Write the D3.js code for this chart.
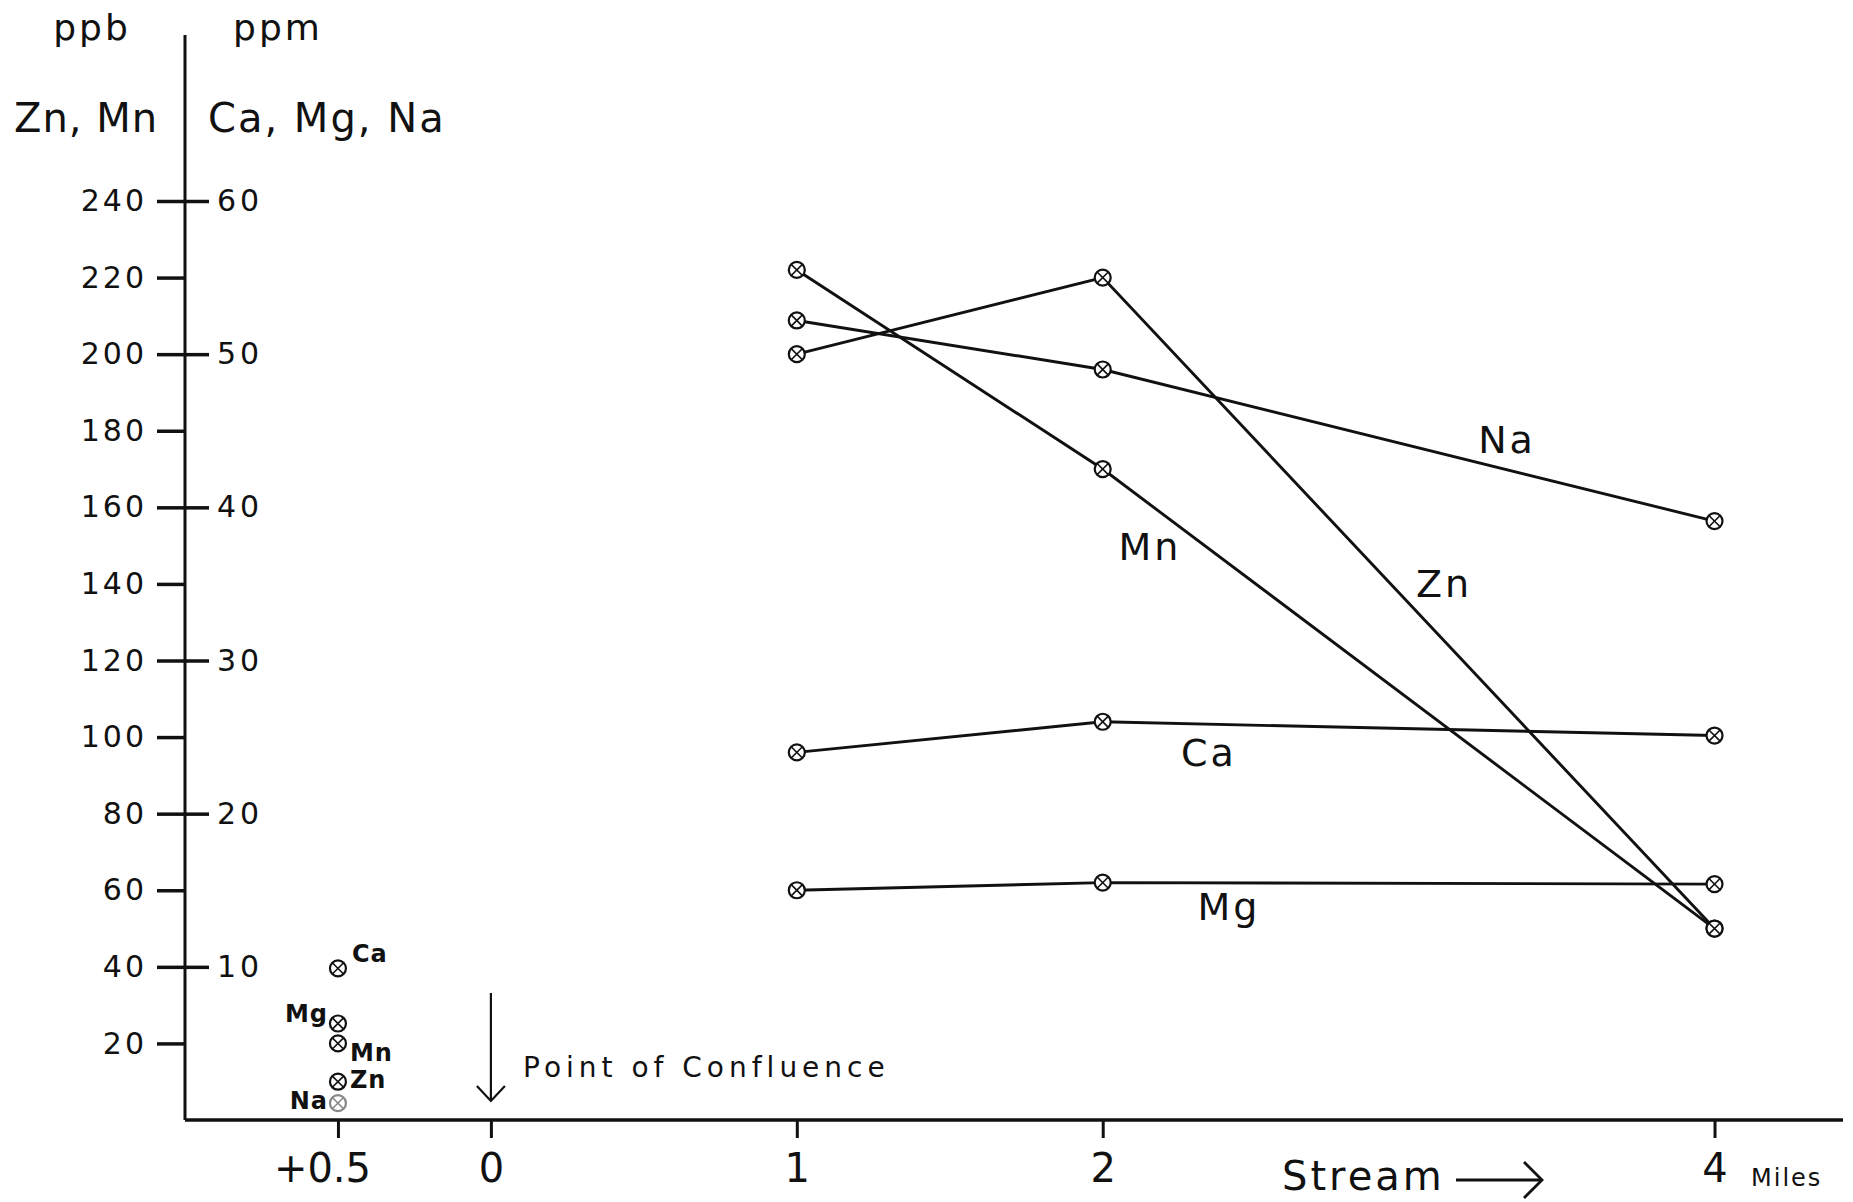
<!DOCTYPE html>
<html>
<head>
<meta charset="utf-8">
<script src="https://cdn.jsdelivr.net/npm/d3@7"></script>
<style>
    body { margin: 0; background: #fff; }
    text { font-family: "DejaVu Sans", sans-serif; fill: #111; }
</style>
</head>
<body>
<div id="graph"></div>
<script>
// stream miles downstream of the confluence; the upstream sample sits at -0.5 ("+0.5")
let upstream_mile = -0.5;
let miles = [1, 2, 4];

// ppb
let zn = [200, 220, 50];
let mn = [222, 170, 50];
// ppm
let na = [52.2, 49, 39.1];
let ca = [24, 26, 25.1];
let mg = [15, 15.5, 15.4];

// upstream sample (+0.5 mile)
let upstream_ppb = { Zn: 10, Mn: 20 };
let upstream_ppm = { Ca: 9.9, Mg: 6.3, Na: 1.1 };

let ppb_ticks = [20, 40, 60, 80, 100, 120, 140, 160, 180, 200, 220, 240];
let ppm_ticks = [10, 20, 30, 40, 50, 60];
let x_ticks = [-0.5, 0, 1, 2, 4];
let x_tick_labels = ["+0.5", "0", "1", "2", "4"];

let width = 1853, height = 1202;
let margin = { top: 35, right: 10, bottom: 83, left: 185 };

let svg = d3.select("#graph")
    .append("svg")
    .attr("width", width)
    .attr("height", height);

let x = d3.scaleLinear()
    .domain([-1, 4.42])
    .range([margin.left, width - margin.right]);

let y = d3.scaleLinear()      // ppb
    .domain([0, 240])
    .range([1120, 201]);
let y2 = d3.scaleLinear()     // ppm, 60 ppm lines up with 240 ppb
    .domain([0, 60])
    .range([1120, 201]);

// axes lines
svg.append("line")
    .attr("x1", x(-1)).attr("x2", x(-1))
    .attr("y1", margin.top).attr("y2", y(0))
    .attr("stroke", "#111").attr("stroke-width", 3);
svg.append("line")
    .attr("x1", x(-1)).attr("x2", width - margin.right)
    .attr("y1", y(0)).attr("y2", y(0))
    .attr("stroke", "#111").attr("stroke-width", 3.5);

// left ppb axis
let left = svg.append("g")
    .attr("transform", `translate(${x(-1)}, 0)`)
    .call(d3.axisLeft(y).tickValues(ppb_ticks).tickSize(28).tickPadding(10));
left.select(".domain").remove();
left.selectAll(".tick line").attr("stroke", "#111").attr("stroke-width", 3.5);
left.selectAll(".tick text")
    .style("font-family", "DejaVu Sans")
    .style("font-size", "30px")
    .style("letter-spacing", "3px")
    .attr("fill", "#111");

// right ppm axis
let right = svg.append("g")
    .attr("transform", `translate(${x(-1)}, 0)`)
    .call(d3.axisRight(y2).tickValues(ppm_ticks).tickSize(24).tickPadding(8));
right.select(".domain").remove();
right.selectAll(".tick line").attr("stroke", "#111").attr("stroke-width", 3.5);
right.selectAll(".tick text")
    .style("font-family", "DejaVu Sans")
    .style("font-size", "30px")
    .style("letter-spacing", "4px")
    .attr("fill", "#111");

// bottom axis
let bottom = svg.append("g")
    .attr("transform", `translate(0, ${y(0)})`)
    .call(d3.axisBottom(x).tickValues(x_ticks).tickSize(18).tickPadding(16)
        .tickFormat((d, i) => x_tick_labels[i]));
bottom.select(".domain").remove();
bottom.selectAll(".tick line").attr("stroke", "#111").attr("stroke-width", 3);
bottom.selectAll(".tick text")
    .style("font-family", "DejaVu Sans")
    .style("font-size", "40px")
    .attr("fill", "#111")
    .attr("dx", d => d == -0.5 ? -16 : 0);

// headers
svg.append("text").attr("x", 92).attr("y", 40).style("text-anchor", "middle")
    .style("font-size", "36px").style("letter-spacing", "3px").text("ppb");
svg.append("text").attr("x", 278).attr("y", 40).style("text-anchor", "middle")
    .style("font-size", "36px").style("letter-spacing", "3px").text("ppm");
svg.append("text").attr("x", 14).attr("y", 132)
    .style("font-size", "40px").style("letter-spacing", "1px").text("Zn, Mn");
svg.append("text").attr("x", 208).attr("y", 132)
    .style("font-size", "40px").style("letter-spacing", "2px").text("Ca, Mg, Na");

// series
let series = [
    { name: "Zn", values: zn, scale: y, label: [1444, 597] },
    { name: "Mn", values: mn, scale: y, label: [1150, 560] },
    { name: "Na", values: na, scale: y2, label: [1507, 453] },
    { name: "Ca", values: ca, scale: y2, label: [1209, 766] },
    { name: "Mg", values: mg, scale: y2, label: [1229, 920] }
];

let line = d3.line();

series.forEach(s => {
    let pts = miles.map((m, i) => [x(m), s.scale(s.values[i])]);
    svg.append("path")
        .attr("d", line(pts))
        .attr("fill", "none")
        .attr("stroke", "#111")
        .attr("stroke-width", 2.9);
    svg.append("text")
        .attr("x", s.label[0]).attr("y", s.label[1])
        .style("text-anchor", "middle")
        .style("font-size", "38px")
        .style("letter-spacing", "3px")
        .text(s.name);
});

function marker(cx, cy, color) {
    let r = 8, d = r * 0.7;
    let g = svg.append("g").attr("transform", `translate(${cx}, ${cy})`);
    g.append("circle").attr("r", r).attr("fill", "#fff")
        .attr("stroke", color).attr("stroke-width", 2.2);
    g.append("line").attr("x1", -d).attr("y1", -d).attr("x2", d).attr("y2", d)
        .attr("stroke", color).attr("stroke-width", 1.6);
    g.append("line").attr("x1", -d).attr("y1", d).attr("x2", d).attr("y2", -d)
        .attr("stroke", color).attr("stroke-width", 1.6);
}

series.forEach(s => {
    miles.forEach((m, i) => marker(x(m), s.scale(s.values[i]), "#111"));
});

// upstream sample points and their labels
let ux = x(upstream_mile);
let up_labels = [
    { name: "Ca", v: upstream_ppm.Ca, scale: y2, dx: 14, dy: -6, anchor: "start", color: "#111" },
    { name: "Mg", v: upstream_ppm.Mg, scale: y2, dx: -10, dy: -2, anchor: "end", color: "#111" },
    { name: "Mn", v: upstream_ppb.Mn, scale: y, dx: 12, dy: 18, anchor: "start", color: "#111" },
    { name: "Zn", v: upstream_ppb.Zn, scale: y, dx: 12, dy: 6, anchor: "start", color: "#111" },
    { name: "Na", v: upstream_ppm.Na, scale: y2, dx: -10, dy: 6, anchor: "end", color: "#888" }
];
up_labels.forEach(d => {
    let cy = d.scale(d.v);
    marker(ux, cy, d.color);
    svg.append("text")
        .attr("x", ux + d.dx).attr("y", cy + d.dy)
        .style("text-anchor", d.anchor)
        .style("font-size", "24px")
        .style("font-weight", "bold")
        .style("letter-spacing", "1px")
        .text(d.name);
});

// point of confluence arrow
let cx0 = x(0);
svg.append("line")
    .attr("x1", cx0).attr("x2", cx0).attr("y1", 993).attr("y2", 1100)
    .attr("stroke", "#111").attr("stroke-width", 2.2);
svg.append("path")
    .attr("d", `M${cx0 - 14},${1086} L${cx0},${1101} L${cx0 + 14},${1086}`)
    .attr("fill", "none").attr("stroke", "#111").attr("stroke-width", 2.2);
svg.append("text")
    .attr("x", 523).attr("y", 1077)
    .style("font-size", "28px")
    .style("letter-spacing", "5px")
    .text("Point  of  Confluence");

// stream direction
svg.append("text")
    .attr("x", 1282).attr("y", 1190)
    .style("font-size", "40px")
    .style("letter-spacing", "3px")
    .text("Stream");
svg.append("line")
    .attr("x1", 1456).attr("x2", 1540).attr("y1", 1180).attr("y2", 1180)
    .attr("stroke", "#111").attr("stroke-width", 2.8);
svg.append("path")
    .attr("d", "M1524,1162 L1542,1180 L1524,1198")
    .attr("fill", "none").attr("stroke", "#111").attr("stroke-width", 2.8);
svg.append("text")
    .attr("x", 1751).attr("y", 1186)
    .style("font-size", "24px")
    .style("letter-spacing", "2px")
    .text("Miles");
</script>
</body>
</html>
